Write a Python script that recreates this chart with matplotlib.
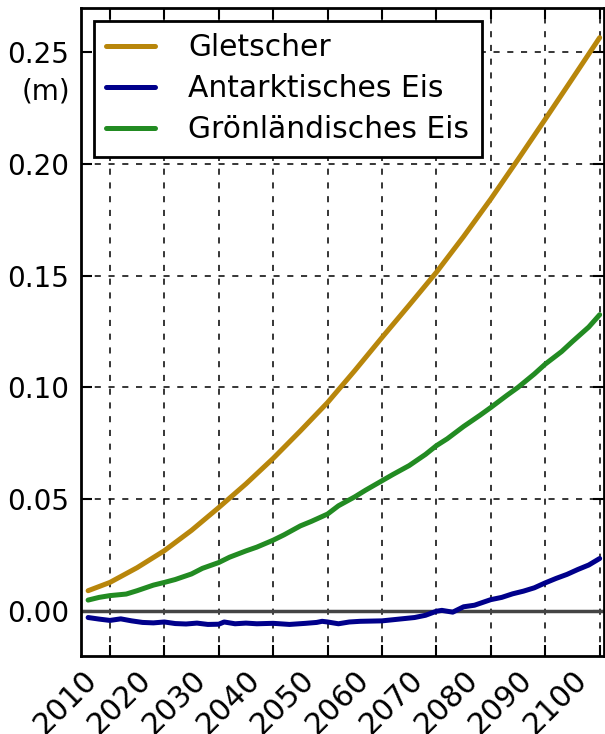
import matplotlib
matplotlib.use("Agg")
import matplotlib.pyplot as plt
import matplotlib.transforms as mtransforms

# ---------------------------------------------------------------------------
# Daten
# ---------------------------------------------------------------------------
jahre_glet = [2006, 2010, 2015, 2020, 2025, 2030, 2035, 2040, 2045, 2050,
              2055, 2060, 2065, 2070, 2075, 2080, 2085, 2090, 2095, 2100]
gletscher = [0.0090, 0.0127, 0.0193, 0.0269, 0.0360, 0.0462, 0.0568, 0.0682,
             0.0805, 0.0932, 0.1075, 0.1223, 0.1368, 0.1515, 0.1675, 0.1843,
             0.2020, 0.2200, 0.2382, 0.2565]

jahre_ant = [2006, 2008, 2010, 2012, 2014, 2016, 2018, 2020, 2022, 2024,
             2026, 2028, 2030, 2031, 2033, 2035, 2037, 2040, 2043, 2046,
             2048, 2049, 2050, 2052, 2054, 2056, 2058, 2060, 2062, 2064,
             2066, 2068, 2070, 2071, 2073, 2075, 2077, 2080, 2082, 2084,
             2086, 2088, 2090, 2092, 2094, 2096, 2098, 2100]
antarktis = [-0.0030, -0.0037, -0.0043, -0.0036, -0.0045, -0.0052, -0.0054,
             -0.0050, -0.0057, -0.0059, -0.0055, -0.0061, -0.0060, -0.0050,
             -0.0058, -0.0055, -0.0058, -0.0056, -0.0061, -0.0056, -0.0052,
             -0.0047, -0.0050, -0.0058, -0.0050, -0.0047, -0.0046, -0.0045,
             -0.0040, -0.0035, -0.0030, -0.0020, -0.0002, 0.0002, -0.0006,
             0.0018, 0.0025, 0.0050, 0.0060, 0.0076, 0.0088, 0.0103, 0.0125,
             0.0145, 0.0163, 0.0185, 0.0205, 0.0234]

jahre_groen = [2006, 2008, 2010, 2013, 2015, 2018, 2020, 2022, 2025, 2027,
               2030, 2032, 2035, 2037, 2040, 2042, 2045, 2047, 2050, 2052,
               2055, 2057, 2060, 2062, 2065, 2068, 2070, 2072, 2075, 2078,
               2080, 2083, 2085, 2088, 2090, 2093, 2095, 2098, 2100]
groenland = [0.0048, 0.0060, 0.0068, 0.0075, 0.0090, 0.0115, 0.0127, 0.0140,
             0.0165, 0.0190, 0.0216, 0.0240, 0.0268, 0.0285, 0.0316, 0.0340,
             0.0380, 0.0400, 0.0433, 0.0470, 0.0510, 0.0540, 0.0582, 0.0610,
             0.0650, 0.0700, 0.0739, 0.0770, 0.0825, 0.0875, 0.0910, 0.0965,
             0.1000, 0.1060, 0.1104, 0.1160, 0.1205, 0.1270, 0.1325]

serien = [
    ("Gletscher", jahre_glet, gletscher, "#b8860b"),
    ("Antarktisches Eis", jahre_ant, antarktis, "#00008b"),
    ("Grönländisches Eis", jahre_groen, groenland, "#228b22"),
]

x_ticks = list(range(2010, 2101, 10))
y_ticks = [0.00, 0.05, 0.10, 0.15, 0.20, 0.25]

# ---------------------------------------------------------------------------
# Figur
# ---------------------------------------------------------------------------
plt.rcParams["font.family"] = ["DejaVu Sans"]
plt.rcParams["font.size"] = 20

fig = plt.figure(figsize=(6.05, 7.34), dpi=100)
ax = fig.add_axes([80.5 / 605, (734 - 655.5) / 734,
                   (604 - 80.5) / 605, (655.5 - 7.5) / 734])

ax.axhline(0, color="#444444", linewidth=2.5, zorder=2)

for name, jahre, werte, farbe in serien:
    ax.plot(jahre, werte, color=farbe, linewidth=3.6, label=name,
            solid_capstyle="round", zorder=3)

ax.set_xlim(2004.6, 2100.8)
ax.set_ylim(-0.02, 0.27)
ax.set_xticks(x_ticks)
ax.set_yticks(y_ticks)
ax.set_xticklabels([str(j) for j in x_ticks], rotation=45, ha="right")
ax.set_yticklabels([f"{v:.2f}" for v in y_ticks])

ax.grid(True, color="black", linestyle=(0, (4, 5)), linewidth=1.1)
ax.tick_params(direction="in", length=8, width=1.5, top=True, right=True,
               pad=8, labelsize=20)
ax.tick_params(axis="x", pad=7, labelsize=21.5)
for s in ax.spines.values():
    s.set_linewidth(2)

# Jahreszahlen etwas nach links versetzen (wie im Original)
versatz = mtransforms.ScaledTranslation(-7 / 100, 0, fig.dpi_scale_trans)
for lbl in ax.get_xticklabels():
    lbl.set_transform(lbl.get_transform() + versatz)

# Einheit direkt unter der obersten Beschriftung
ax.text(-0.02, 0.2325, "(m)", transform=ax.get_yaxis_transform(),
        ha="right", va="center", fontsize=20)

leg = ax.legend(loc="upper left", fontsize=21.4, handlelength=1.65,
                handletextpad=1.1, labelspacing=0.40, borderpad=0.42,
                borderaxespad=0.45, fancybox=False, framealpha=1,
                edgecolor="black")
leg.get_frame().set_linewidth(2)

fig.savefig("out.png", dpi=100)
